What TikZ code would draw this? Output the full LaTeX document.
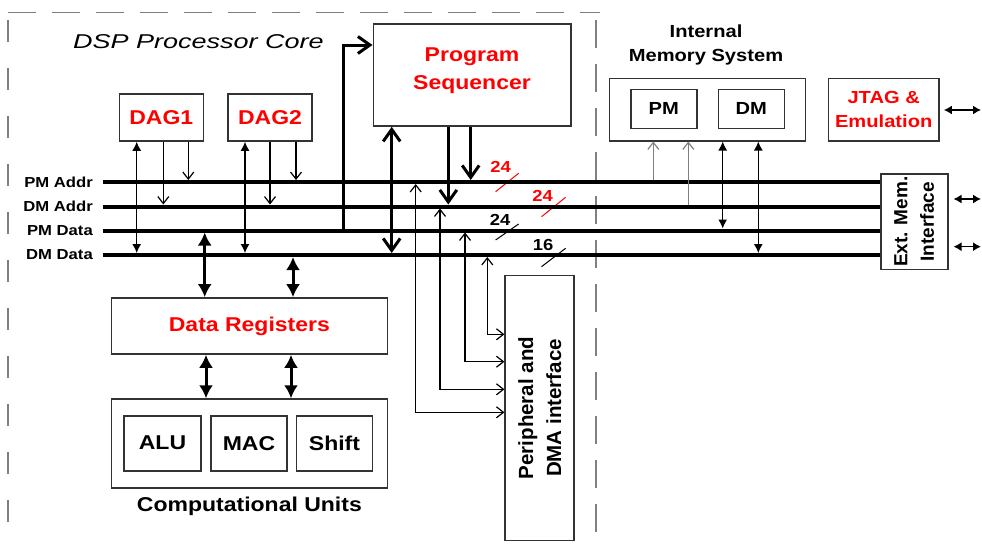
\documentclass[tikz,border=0pt]{standalone}
\usepackage{fontspec}
\setmainfont{Liberation Sans}[FakeStretch=1.15]
\newfontfamily\titlefont{Liberation Sans}[FakeStretch=1.35]
\newfontfamily\rotfont{Liberation Sans}
\usetikzlibrary{arrows.meta}

\begin{document}
\begin{tikzpicture}[x=1pt,y=-1pt,
    box/.style={draw=black!80,line width=1.6pt,inner sep=0pt},
    bus/.style={line width=4pt},
    frame/.style={gray,line width=1.5pt,dash pattern=on 28pt off 16pt},
    lbl/.style={inner sep=0pt,font=\fontsize{14.5}{16}\selectfont\bfseries},
    big/.style={inner sep=0pt,align=center,font=\fontsize{20}{28}\selectfont\bfseries},
    mid/.style={inner sep=0pt,align=center,font=\fontsize{17.5}{23.5}\selectfont\bfseries},
    num/.style={inner sep=0pt,font=\fontsize{16}{18}\selectfont\bfseries},
    vtext/.style={inner sep=0pt,align=center,rotate=90},
    thinboth/.style={line width=1.2pt,{Latex[length=9pt,width=9pt]}-{Latex[length=9pt,width=9pt]}},
    thinopen/.style={line width=1.2pt,-{Straight Barb[length=7pt,width=11pt]}},
    thinopenboth/.style={line width=1.2pt,{Straight Barb[length=7pt,width=11pt]}-{Straight Barb[length=7pt,width=11pt]}},
    thickopen/.style={line width=3pt,-{Straight Barb[length=12pt,width=17pt]}},
    thickopenboth/.style={line width=3pt,{Straight Barb[length=12pt,width=17pt]}-{Straight Barb[length=12pt,width=17pt]}},
    thickboth/.style={line width=3pt,{Latex[length=13pt,width=14pt]}-{Latex[length=13pt,width=14pt]}},
    ioboth/.style={line width=1.4pt,{Latex[length=8pt,width=9pt]}-{Latex[length=8pt,width=9pt]}},
    slash/.style={line width=1pt}]
\useasboundingbox (0,0) rectangle (982,549);

\draw[frame] (8,12.7) -- (600,12.7);
\draw[frame,dash pattern=on 22pt off 26pt] (8,20) -- (8,540);
\draw[frame] (596,20) -- (596,543);

\node[font=\titlefont\fontsize{20}{24}\selectfont\itshape,inner sep=0pt] (core) at (198.5,42) {DSP Processor Core};

\node[box,minimum width=84pt,minimum height=47pt,big,text=red] (dag1) at (161.3,117.5) {DAG1};
\node[box,minimum width=84pt,minimum height=47pt,big,text=red] (dag2) at (270,117.5) {DAG2};
\node[box,minimum width=197.4pt,minimum height=102pt] (seq) at (472,75) {};
\node[big,text=red] (seqtext) at (472,70.5) {Program\\Sequencer};

\node[box,minimum width=276pt,minimum height=56pt,big,text=red] (dreg) at (249.4,326) {Data Registers};
\node[box,minimum width=276pt,minimum height=89pt] (cu) at (249.4,443.6) {};
\node[box,minimum width=77pt,minimum height=55pt,big] (alu) at (162.5,443.2) {ALU};
\node[box,minimum width=76pt,minimum height=55pt,big] (mac) at (249,443.2) {MAC};
\node[box,minimum width=76pt,minimum height=55pt,big] (shift) at (334.5,443.2) {Shift};
\node[big] (culabel) at (249.4,506) {Computational Units};

\node[box,minimum width=69pt,minimum height=265pt] (periph) at (539.7,408) {};
\node[vtext,font=\rotfont\fontsize{20.5}{28}\selectfont\bfseries] (periphtext) at (periph.center) {Peripheral and\\DMA interface};

\node[mid] (memlabel) at (706,45) {Internal\\Memory System};
\node[box,minimum width=196pt,minimum height=62.4pt] (mem) at (707.3,109.5) {};
\node[box,minimum width=66pt,minimum height=39pt,mid] (pm) at (663.7,108.8) {PM};
\node[box,minimum width=66pt,minimum height=39pt,mid] (dm) at (751.3,108.8) {DM};
\node[box,minimum width=110.7pt,minimum height=62.4pt,mid,text=red] (jtag) at (883.7,109.5) {JTAG \&\\Emulation};
\node[box,minimum width=67pt,minimum height=95.3pt] (ext) at (914.2,221.7) {};
\node[vtext,font=\rotfont\fontsize{19}{26.5}\selectfont\bfseries] (exttext) at (ext.center) {Ext. Mem.\\Interface};

\coordinate (pa) at (103,182);
\coordinate (da) at (103,206.5);
\coordinate (pd) at (103,230.5);
\coordinate (dd) at (103,255);
\node[lbl,anchor=east] (lpa) at (93,182) {PM Addr};
\node[lbl,anchor=east] (lda) at (93,206.5) {DM Addr};
\node[lbl,anchor=east] (lpd) at (93,230.5) {PM Data};
\node[lbl,anchor=east] (ldd) at (93,255) {DM Data};

\draw[slash,red] (495.6,191.7) -- (518.6,173.3);
\draw[slash,red] (541.5,216.7) -- (565.6,197.3);
\draw[slash] (495.6,240) -- (518.6,224);
\draw[slash] (541.5,266.7) -- (565.6,248.3);
\node[num,text=red] (w1) at (500.5,167) {24};
\node[num,text=red] (w2) at (542.5,196) {24};
\node[num] (w3) at (500,220) {24};
\node[num] (w4) at (543,244.5) {16};

\draw[bus] (pa) -- (pa -| ext.west);
\draw[bus] (da) -- (da -| ext.west);
\draw[bus] (pd) -- (pd -| ext.west);
\draw[bus] (dd) -- (dd -| ext.west);

\draw[thinboth,shorten >=2pt] (136.7,0 |- dag1.south) -- (136.7,0 |- dd);
\draw[thinopen,shorten >=2pt] (163.3,0 |- dag1.south) -- (163.3,0 |- da);
\draw[thinopen,shorten >=2pt] (188.3,0 |- dag1.south) -- (188.3,0 |- pa);
\draw[thinboth,shorten >=2pt] (245,0 |- dag2.south) -- (245,0 |- dd);
\draw[thinopen,shorten >=2pt] (270,0 |- dag2.south) -- (270,0 |- da);
\draw[thinopen,shorten >=2pt] (296,0 |- dag2.south) -- (296,0 |- pa);

\draw[thickboth,shorten <=2pt] (204.7,0 |- pd) -- (204.7,0 |- dreg.north);
\draw[thickboth,shorten <=2pt] (293,0 |- dd) -- (293,0 |- dreg.north);
\draw[thickboth] (206,0 |- dreg.south) -- (206,0 |- cu.north);
\draw[thickboth] (291,0 |- dreg.south) -- (291,0 |- cu.north);

\draw[thickopen] (343.3,0 |- pd) |- (seq.west |- 0,45);
\draw[thickopenboth,shorten >=2pt] (391.7,0 |- seq.south) -- (391.7,0 |- dd);
\draw[thickopen,shorten >=2pt] (448.3,0 |- seq.south) -- (448.3,0 |- da);
\draw[thickopen,shorten >=2pt] (470.7,0 |- seq.south) -- (470.7,0 |- pa);

\draw[thinopenboth,shorten <=2pt] (415.7,0 |- pa) |- (periph.west |- 0,412.3);
\draw[thinopenboth,shorten <=2pt] (440,0 |- da) |- (periph.west |- 0,389.3);
\draw[thinopenboth,shorten <=2pt] (465,0 |- pd) |- (periph.west |- 0,361.7);
\draw[thinopenboth,shorten <=2pt] (487.3,0 |- dd) |- (periph.west |- 0,334.3);

\draw[thinopen,gray,shorten <=2pt] (653.3,0 |- pa) -- (653.3,0 |- mem.south);
\draw[thinopen,gray,shorten <=2pt] (688.3,0 |- da) -- (688.3,0 |- mem.south);
\draw[thinboth,shorten >=2pt] (722.7,0 |- mem.south) -- (722.7,0 |- pd);
\draw[thinboth,shorten >=2pt] (758.3,0 |- mem.south) -- (758.3,0 |- dd);

\coordinate (jtagpin) at (981,110);
\coordinate (extpin1) at (981,199);
\coordinate (extpin2) at (981,246.7);
\draw[ioboth] ([xshift=4pt]jtag.east |- jtagpin) -- (jtagpin);
\draw[ioboth] ([xshift=5pt]ext.east |- extpin1) -- (extpin1);
\draw[ioboth] ([xshift=5pt]ext.east |- extpin2) -- (extpin2);
\end{tikzpicture}
\end{document}
